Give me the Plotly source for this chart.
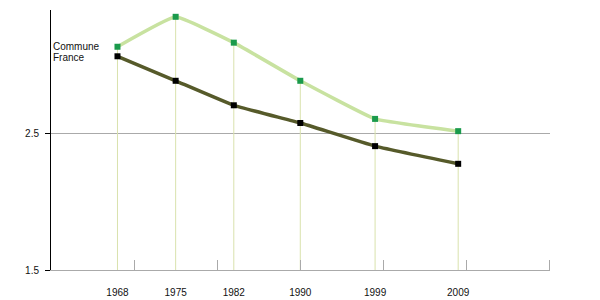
import plotly.graph_objects as go

years = [1968, 1975, 1982, 1990, 1999, 2009]
year_labels = ["1968", "1975", "1982", "1990", "1999", "2009"]
commune = [3.14, 3.36, 3.17, 2.89, 2.61, 2.52]
france = [3.07, 2.89, 2.71, 2.58, 2.41, 2.28]
decade_ticks = [1970, 1980, 1990, 2000, 2010, 2020]
y_ticks = [1.5, 2.5]
y_min, y_max = 1.5, 3.41
series_names = ["Commune", "France"]

drop_x, drop_y = [], []
for x, v in zip(years, commune):
    drop_x += [x, x, None]
    drop_y += [v, y_min, None]

fig = go.Figure()
fig.add_trace(go.Scatter(x=drop_x, y=drop_y, mode="lines",
                         line=dict(color="#d9e2ad", width=1),
                         hoverinfo="skip", showlegend=False))
fig.add_trace(go.Scatter(x=years, y=commune, mode="lines",
                         line=dict(color="#c8e2a0", width=3.5, shape="spline", smoothing=0.3),
                         showlegend=False))
fig.add_trace(go.Scatter(x=years, y=france, mode="lines",
                         line=dict(color="#565a2a", width=3.5, shape="spline", smoothing=0.3),
                         showlegend=False))
fig.add_trace(go.Scatter(x=years, y=commune, mode="markers",
                         marker=dict(symbol="square", size=6, color="#1a9a4c"),
                         name=series_names[0], showlegend=False))
fig.add_trace(go.Scatter(x=years, y=france, mode="markers",
                         marker=dict(symbol="square", size=6, color="#000000"),
                         name=series_names[1], showlegend=False))

fig.add_annotation(text=series_names[0], xref="paper", yref="paper", x=0, y=0.8615,
                   xanchor="left", yanchor="middle", showarrow=False, xshift=1,
                   borderpad=0, font=dict(size=10, color="#111"))
fig.add_annotation(text=series_names[1], xref="paper", yref="paper", x=0, y=0.8154,
                   xanchor="left", yanchor="middle", showarrow=False, xshift=1,
                   borderpad=0, font=dict(size=10, color="#111"))

fig.update_layout(
    width=600, height=300,
    margin=dict(l=51, r=50, t=10, b=30),
    paper_bgcolor="white", plot_bgcolor="white",
    font=dict(family="Liberation Sans, Arial, sans-serif", size=10, color="#111"),
    xaxis=dict(range=[1960, 2020.05], tickvals=years, ticktext=year_labels,
               ticks="", showgrid=False, zeroline=False, automargin=False,
               showline=True, linecolor="#aaaaaa", linewidth=1,
               ticklabelstandoff=13,
               minor=dict(tickvals=decade_ticks, ticks="inside", ticklen=10,
                          tickcolor="#aaaaaa", tickwidth=1, showgrid=False)),
    yaxis=dict(range=[y_min, y_max], tickvals=y_ticks, ticktext=["1.5", "2.5"],
               ticks="outside", ticklen=5, tickcolor="#000", tickwidth=1,
               showline=True, linecolor="#000", linewidth=1, automargin=False,
               showgrid=True, gridcolor="#aaaaaa", gridwidth=1, zeroline=False,
               ticklabelstandoff=4),
)

fig.write_html("out.html")
